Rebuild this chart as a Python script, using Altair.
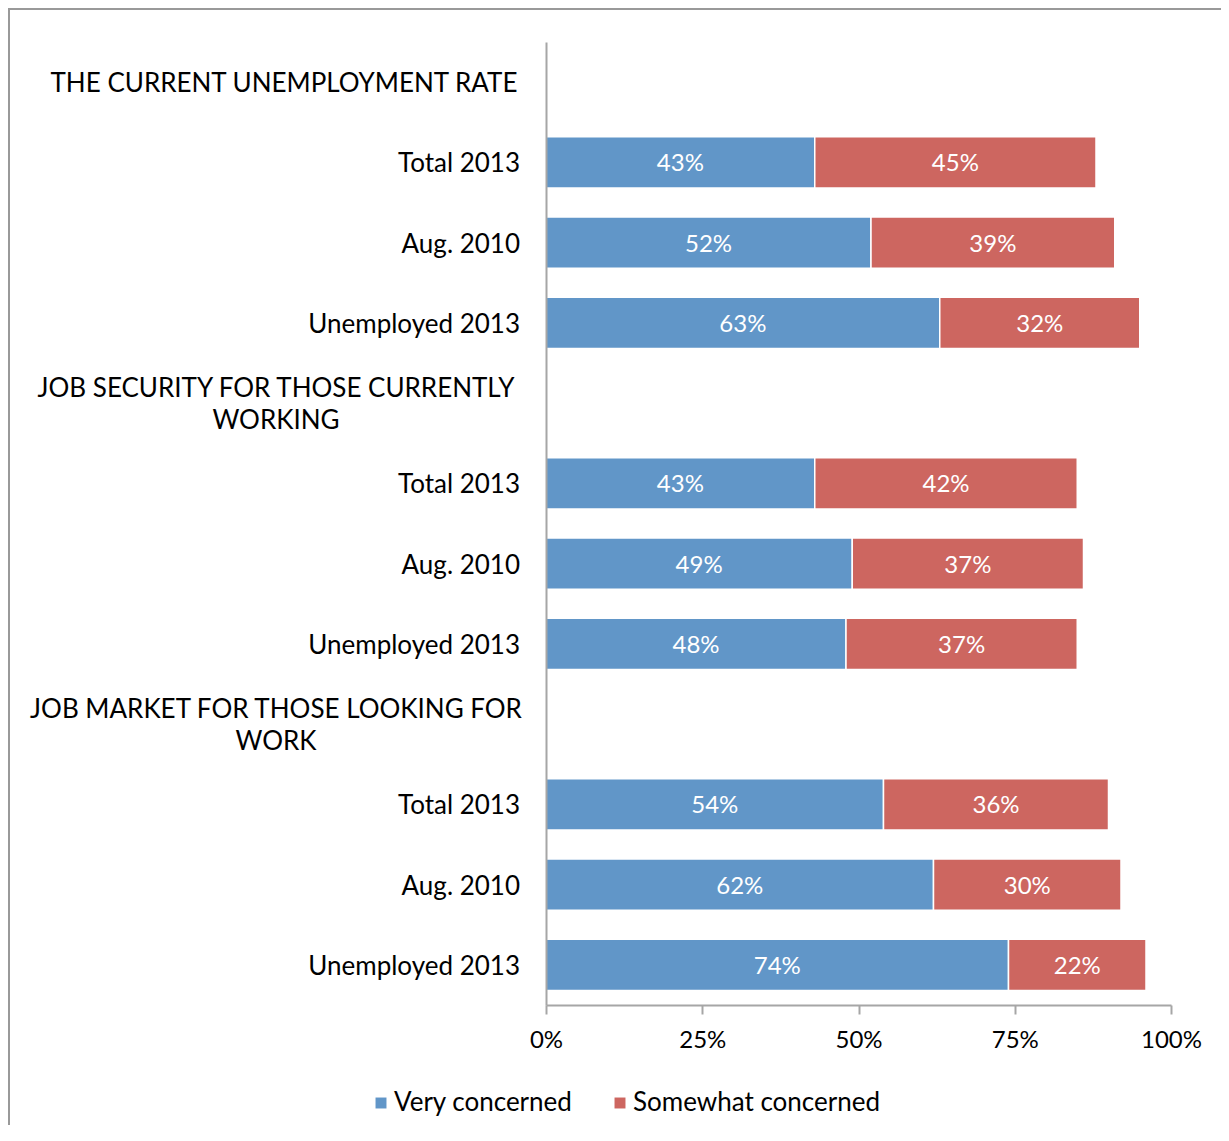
import altair as alt
import pandas as pd

groups = ["THE CURRENT UNEMPLOYMENT RATE",
          "JOB SECURITY FOR THOSE CURRENTLY\nWORKING",
          "JOB MARKET FOR THOSE LOOKING FOR\nWORK"]
subgroups = ["Total 2013", "Aug. 2010", "Unemployed 2013"]
series = ["Very concerned", "Somewhat concerned"]
very = [43, 52, 63, 43, 49, 48, 54, 62, 74]
somewhat = [45, 39, 32, 42, 37, 37, 36, 30, 22]
ticks = [0, 25, 50, 75, 100]
colors = ["#6196C8", "#CD6660"]

FONT = "Lato"

rows, bars, labels = [], [], []
k = 0
for gi, g in enumerate(groups):
    rid = f"h{gi}"
    rows.append(rid)
    labels.append({"row": rid, "label": g, "kind": "header",
                   "lines": g.count("\n") + 1})
    for si, s in enumerate(subgroups):
        rid = f"r{gi}{si}"
        rows.append(rid)
        labels.append({"row": rid, "label": s, "kind": "sub", "lines": 1})
        v, w = very[k], somewhat[k]
        bars.append({"row": rid, "series": series[0], "start": 0, "end": v,
                     "mid": v / 2, "txt": f"{v}%"})
        bars.append({"row": rid, "series": series[1], "start": v, "end": v + w,
                     "mid": v + w / 2, "txt": f"{w}%"})
        k += 1

bars_df = pd.DataFrame(bars)
lab_df = pd.DataFrame(labels)

yscale = alt.Scale(domain=rows, paddingInner=0.36, paddingOuter=0.18)
xscale = alt.Scale(domain=[0, 100], nice=False)

bar = alt.Chart(bars_df).mark_bar(stroke="white", strokeWidth=1.5).encode(
    x=alt.X("start:Q", scale=xscale,
            axis=alt.Axis(values=ticks, labelExpr="datum.value + '%'", title=None,
                          grid=False, domainColor="#A6A6A6", domainWidth=2,
                          tickColor="#A6A6A6", tickWidth=2, tickSize=9,
                          labelFontSize=24, labelFont=FONT, labelColor="#000",
                          labelPadding=14, labelFlush=False, zindex=1)),
    x2="end:Q",
    y=alt.Y("row:N", scale=yscale,
            axis=alt.Axis(labels=False, ticks=False, title=None, grid=False,
                          domainColor="#A6A6A6", domainWidth=2, zindex=1)),
    color=alt.Color("series:N", scale=alt.Scale(domain=series, range=colors),
                    legend=alt.Legend(title=None, orient="none", direction="horizontal",
                                      legendX=-178, legendY=1048,
                                      symbolType="square", symbolSize=120,
                                      symbolStrokeWidth=0,
                                      labelFontSize=26, labelFont=FONT,
                                      labelColor="#000", columnPadding=34,
                                      labelOffset=0, labelLimit=0)),
)

bar_txt = alt.Chart(bars_df).mark_text(color="white", fontSize=24, font=FONT,
                                       baseline="middle", align="center", dy=2).encode(
    x=alt.X("mid:Q", scale=xscale),
    y=alt.Y("row:N", scale=yscale),
    text="txt:N",
)

sub_txt = alt.Chart(lab_df).transform_filter(alt.datum.kind == "sub").mark_text(
    align="right", baseline="middle", fontSize=26, font=FONT, color="#000",
    dy=2).encode(
    x=alt.value(-26),
    y=alt.Y("row:N", scale=yscale),
    text="label:N",
)

head1_txt = alt.Chart(lab_df).transform_filter(
    (alt.datum.kind == "header") & (alt.datum.lines == 1)).mark_text(
    align="center", baseline="middle", fontSize=26, font=FONT, color="#000",
    dy=2).encode(
    x=alt.value(-262),
    y=alt.Y("row:N", scale=yscale),
    text="label:N",
)

head2_txt = alt.Chart(lab_df).transform_filter(
    (alt.datum.kind == "header") & (alt.datum.lines == 2)).mark_text(
    align="center", baseline="middle", fontSize=26, font=FONT, color="#000",
    lineBreak="\n", lineHeight=32, dy=-14).encode(
    x=alt.value(-270),
    y=alt.Y("row:N", scale=yscale),
    text="label:N",
)

frame = alt.Chart(alt.Data(values=[{"a": 1}])).mark_rect(
    filled=False, stroke="#999999", strokeWidth=2).encode(
    x=alt.value(-537), x2=alt.value(900),
    y=alt.value(-33), y2=alt.value(1300),
)

chart = alt.layer(frame, bar, bar_txt, sub_txt, head1_txt, head2_txt).properties(
    width=625, height=963,
    padding={"left": 538, "top": 34, "right": 50, "bottom": 120},
    autosize=alt.AutoSizeParams(type="none"),
    background="white",
).configure_view(stroke=None)

chart.save("out.html", embed_options={"renderer": "svg", "actions": False})
